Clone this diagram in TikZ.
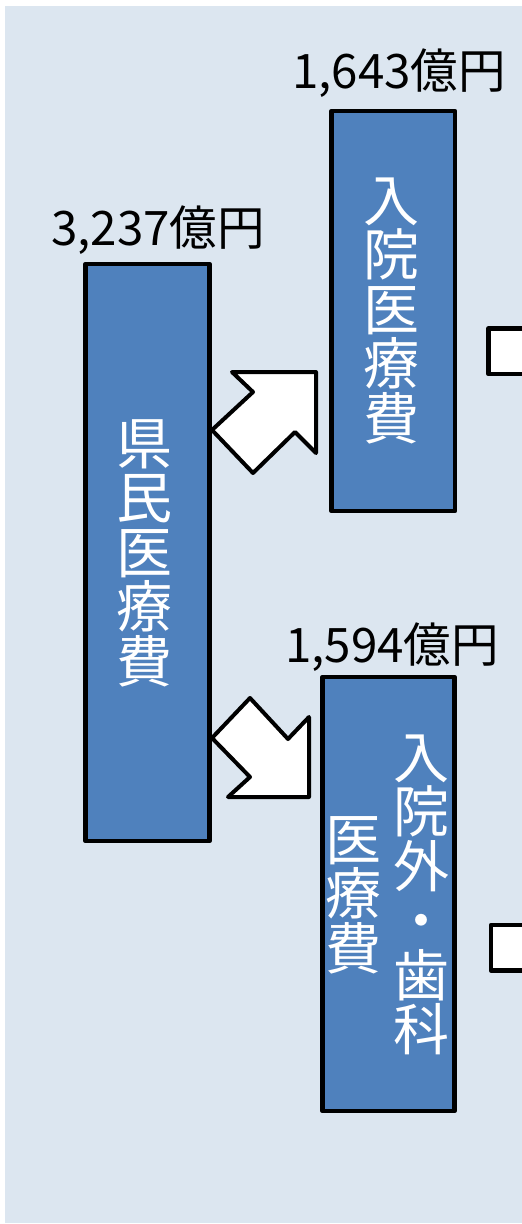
\documentclass[tikz,border=0pt]{standalone}
\usepackage{fontspec}
\newfontfamily\cjk{Noto Sans CJK JP}
\definecolor{bgblue}{HTML}{DCE6F0}
\definecolor{boxblue}{HTML}{4F81BD}
\tikzset{
  bluebox/.style={draw=black, fill=boxblue, line width=4.5pt, inner sep=0pt, line join=round},
  vtext/.style={text=white, align=center, inner sep=0pt, font=\cjk\fontsize{56}{54.5}\selectfont},
  amount/.style={text=black, inner sep=0pt, anchor=base, font=\cjk\fontsize{47.5}{50}\selectfont},
  blockarrow/.style={draw=black, fill=white, line width=4pt, line join=round},
}
\begin{document}
\begin{tikzpicture}[x=1pt,y=-1pt]
\useasboundingbox (0,0) rectangle (522,1224);
\fill[white] (0,0) rectangle (522,1224);
\fill[bgblue] (5,6) rectangle (522,1223);

% boxes
\node[bluebox, minimum width=124pt, minimum height=577pt] (total) at (147.5,552.5) {};
\node[bluebox, minimum width=123.5pt, minimum height=400pt] (inpat) at (393.25,311) {};
\node[bluebox, minimum width=132pt, minimum height=434pt] (outpat) at (388.5,894) {};

% vertical texts
\node[vtext] (ttotal) at (144,553) {県\\民\\医\\療\\費};
\node[vtext] (tinpat) at (391,311) {入\\院\\医\\療\\費};
\node[vtext] (toutA) at (421,895) {入\\院\\外\\・\\歯\\科};
\node[vtext] (toutB) at (353,895) {医\\療\\費};

% amounts
\node[amount] (atotal) at (158,245) {3,237億円};
\node[amount] (ainpat) at (399,88) {1,643億円};
\node[amount] (aoutpat) at (392,662) {1,594億円};

% block arrows
\draw[blockarrow] (212,430) -- (253,392) -- (232,372) -- (316,372) -- (316,453) -- (295,432) -- (253,473) -- cycle;
\draw[blockarrow] (212,738) -- (250,698) -- (288,739) -- (309,717) -- (309,797) -- (228,797) -- (250,777) -- cycle;

% partial squares at right edge
\begin{scope}
\clip (0,0) rectangle (522,1224);
\draw[blockarrow, line width=4.5pt] (540,328.5) -- (488.5,328.5) -- (488.5,374) -- (540,374);
\fill[white] (491,331) rectangle (540,371.5);
\draw[blockarrow, line width=4.5pt] (540,925) -- (491,925) -- (491,970.5) -- (540,970.5);
\fill[white] (493.5,927.5) rectangle (540,968);
\end{scope}
\end{tikzpicture}
\end{document}
